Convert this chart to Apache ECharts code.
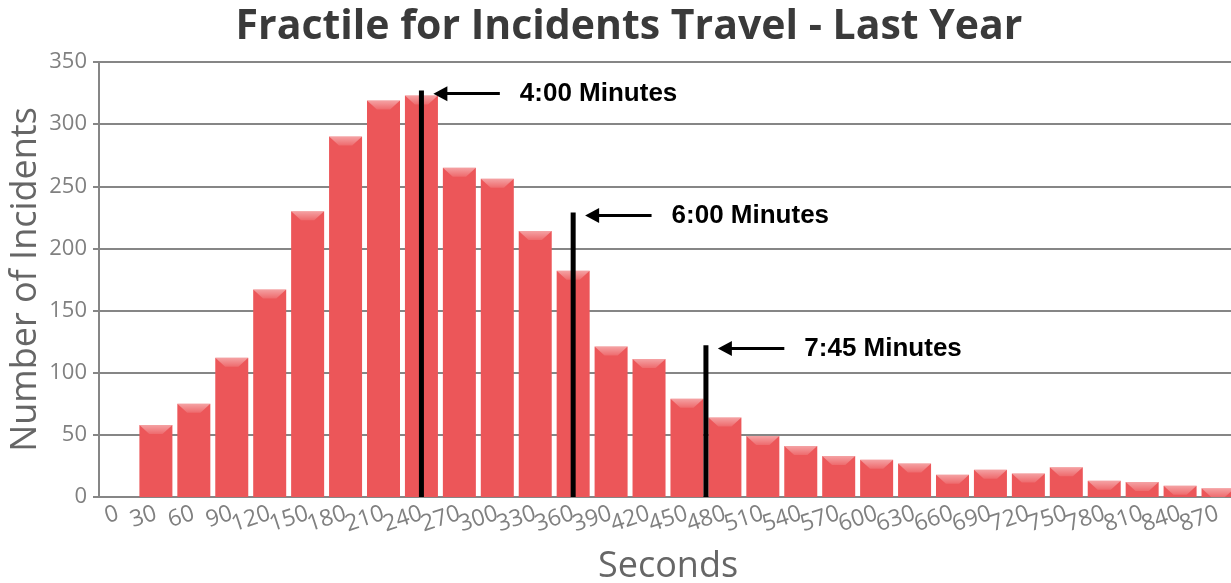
<!DOCTYPE html>
<html>
<head>
<meta charset="utf-8">
<script src="https://cdn.jsdelivr.net/npm/echarts@6/dist/echarts.min.js"></script>
<style>
  html, body { margin: 0; padding: 0; background: #fff; }
  #chart { width: 1231px; height: 583px; }
</style>
</head>
<body>
<div id="chart"></div>
<script>
// Travel time buckets (seconds) and incident counts per bucket
const categories = ['0','30','60','90','120','150','180','210','240','270','300','330','360','390','420','450','480','510','540','570','600','630','660','690','720','750','780','810','840','870'];
const incidents = [0, 58, 75, 112, 167, 230, 290, 319, 323, 265, 256, 214, 182, 121, 111, 79, 64, 49, 41, 33, 30, 27, 18, 22, 19, 24, 13, 12, 9, 7];
const yTicks = { min: 0, max: 350, step: 50 };

// Fractile markers: time in seconds, marker height (count) and caption
const markerSeconds = [240, 360, 465];
const markerHeights = [327, 229, 122];
const markerLabels = ['4:00 Minutes', '6:00 Minutes', '7:45 Minutes'];

const bucket = 30;
const chart = echarts.init(document.getElementById('chart'), null, { renderer: 'canvas' });

const axisGray = '#868686';
const textGray = '#808080';

const markerSeries = markerSeconds.map((s, i) => ({
  type: 'line',
  xAxisIndex: 1,
  yAxisIndex: 0,
  data: [[s, 0], [s, markerHeights[i]]],
  symbol: 'none',
  silent: true,
  z: 5,
  lineStyle: { color: '#000', width: 5, cap: 'butt' },
  markLine: {
    silent: true,
    symbol: ['triangle', 'none'],
    symbolSize: [15, 14],
    lineStyle: { color: '#000', width: 3, type: 'solid' },
    label: {
      show: true,
      position: 'end',
      distance: 20,
      formatter: markerLabels[i],
      color: '#000',
      fontFamily: 'Liberation Sans, Arial, sans-serif',
      fontWeight: 'bold',
      fontSize: 26
    },
    data: [[
      { coord: [s + 15, markerHeights[i] - 2.5] },
      { coord: [s + 62, markerHeights[i] - 2.5] }
    ]]
  }
}));

chart.setOption({
  animation: false,
  title: {
    text: 'Fractile for Incidents Travel - Last Year',
    left: 624,
    textAlign: 'center',
    top: 2,
    textStyle: { fontFamily: 'Open Sans', fontWeight: 'bold', fontSize: 41, color: '#3a3a3a' }
  },
  grid: { left: 99, top: 62, width: 1138, bottom: 86, containLabel: false, outerBoundsMode: 'none' },
  xAxis: [
    {
      type: 'category',
      data: categories,
      boundaryGap: true,
      name: 'Seconds',
      nameLocation: 'middle',
      nameGap: 52,
      nameMoveOverlap: false,
      nameTextStyle: { fontFamily: 'Open Sans', fontSize: 36, color: '#666' },
      axisLine: { lineStyle: { color: axisGray, width: 2 } },
      axisTick: { alignWithLabel: true, length: 6, lineStyle: { color: axisGray, width: 2 } },
      axisLabel: { interval: 0, rotate: 18, margin: 16, fontFamily: 'Open Sans', fontSize: 23, color: textGray }
    },
    {
      type: 'value',
      min: -bucket / 2,
      max: categories.length * bucket - bucket / 2,
      show: false
    }
  ],
  yAxis: {
    type: 'value',
    min: yTicks.min,
    max: yTicks.max,
    interval: yTicks.step,
    name: 'Number of Incidents',
    nameLocation: 'middle',
    nameGap: 55,
    nameMoveOverlap: false,
    nameTextStyle: { fontFamily: 'Open Sans', fontSize: 36, color: '#666' },
    axisLine: { show: true, onZero: false, lineStyle: { color: axisGray, width: 2 } },
    axisTick: { show: true, length: 6, lineStyle: { color: axisGray, width: 2 } },
    axisLabel: { margin: 12, fontFamily: 'Open Sans', fontSize: 22, color: textGray },
    splitLine: { lineStyle: { color: axisGray, width: 2 } }
  },
  series: [
    {
      type: 'bar',
      data: incidents,
      barCategoryGap: '13%',
      itemStyle: { color: '#EC5659' },
      z: 2
    },
    {
      type: 'pictorialBar',
      data: incidents.map(v => (v > 0 ? v : '-')),
      barCategoryGap: '13%',
      barGap: '-100%',
      symbol: 'path://M0,0 L100,0 L70,10 L30,10 Z',
      symbolSize: ['100%', 9],
      symbolPosition: 'end',
      symbolOffset: [0, 0],
      itemStyle: {
        color: new echarts.graphic.LinearGradient(0, 0, 0, 1, [
          { offset: 0, color: 'rgba(255,255,255,0.45)' },
          { offset: 1, color: 'rgba(255,255,255,0.12)' }
        ])
      },
      silent: true,
      z: 3
    },
    ...markerSeries
  ]
});
</script>
</body>
</html>
